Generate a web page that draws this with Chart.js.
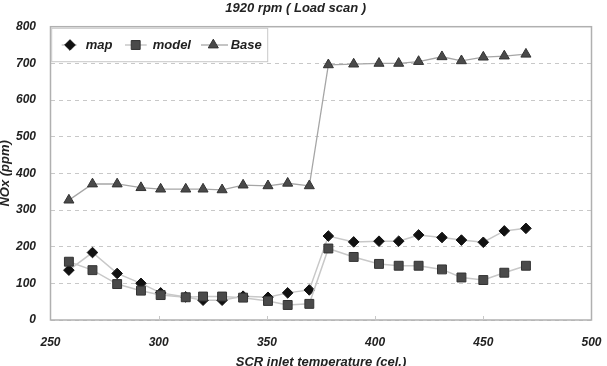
<!DOCTYPE html>
<html><head><meta charset="utf-8">
<script src="https://cdn.jsdelivr.net/npm/chart.js@4/dist/chart.umd.min.js"></script>
<style>html,body{margin:0;padding:0;background:#fff}#wrap{width:607px;height:366px;position:relative}</style>
</head><body><div id="wrap"><canvas id="c"></canvas></div>
<script>
// ---- data ----
const chartTitle = '1920 rpm ( Load scan )';
const xTitle = 'SCR inlet temperature (cel.)';
const yTitle = 'NOx (ppm)';
const seriesNames = ['map', 'model', 'Base'];
const temps    = [258.5, 269.4, 280.8, 291.8, 300.9, 312.5, 320.5, 329.3, 339.0, 350.5, 359.6, 369.6, 378.4, 390.1, 401.8, 410.9, 420.1, 430.9, 439.9, 450.0, 459.7, 469.7];
const mapNOx   = [136, 184, 127, 100, 74, 63, 54, 54, 65, 62, 74, 82, 229, 213, 215, 215, 232, 225, 218, 212, 243, 250];
const modelNOx = [159, 136, 98, 80, 68, 62, 64, 64, 61, 52, 41, 44, 195, 172, 153, 148, 148, 138, 116, 109, 129, 148];
const baseNOx  = [327, 371, 371, 361, 357, 357, 357, 355, 368, 366, 373, 366, 696, 698, 700, 700, 705, 718, 707, 717, 720, 725];
const xTicks = [250, 300, 350, 400, 450, 500];
const yTicks = [0, 100, 200, 300, 400, 500, 600, 700, 800];

const FONT_FAMILY = '"Liberation Sans", Arial, sans-serif';
const pts = (ys) => temps.map((t, i) => ({x: t, y: ys[i]}));

const datasets = [
  {label: seriesNames[0], data: pts(mapNOx), order: 3, borderColor: '#c8c8c8', borderWidth: 1.5,
   pointStyle: 'rectRot', pointRadius: 5.3, pointBackgroundColor: '#111', pointBorderColor: '#111', pointBorderWidth: 1},
  {label: seriesNames[1], data: pts(modelNOx), order: 2, borderColor: '#c8c8c8', borderWidth: 1.5,
   pointStyle: 'rect', pointRadius: 6.3, pointBackgroundColor: '#4a4a4a', pointBorderColor: '#333', pointBorderWidth: 1},
  {label: seriesNames[2], data: pts(baseNOx), order: 1, borderColor: '#a6a6a6', borderWidth: 1.3,
   pointStyle: 'triangle', pointRadius: 5.8, pointBackgroundColor: '#4a4a4a', pointBorderColor: '#333', pointBorderWidth: 1}
];

function drawMarker(ctx, style, r, x, y, fill, stroke) {
  ctx.save();
  ctx.fillStyle = fill; ctx.strokeStyle = stroke; ctx.lineWidth = 1;
  ctx.beginPath();
  if (style === 'rectRot') {
    ctx.moveTo(x, y - r); ctx.lineTo(x + r, y); ctx.lineTo(x, y + r); ctx.lineTo(x - r, y); ctx.closePath();
  } else if (style === 'rect') {
    const s = r * Math.SQRT1_2; ctx.rect(x - s, y - s, 2 * s, 2 * s);
  } else {
    const w = r * Math.sqrt(3) / 2;
    ctx.moveTo(x, y - r); ctx.lineTo(x + w, y + r / 2); ctx.lineTo(x - w, y + r / 2); ctx.closePath();
  }
  ctx.fill(); ctx.stroke();
  ctx.restore();
}

const framePlugin = {
  id: 'frame',
  beforeDatasetsDraw(chart) {
    const {ctx, chartArea: a, scales} = chart;
    ctx.save();
    ctx.strokeStyle = '#b0b0b0'; ctx.lineWidth = 1.5;
    ctx.strokeRect(a.left, a.top, a.right - a.left, a.bottom - a.top);
    ctx.lineWidth = 1; ctx.strokeStyle = '#c8c8c8';
    xTicks.slice(1, -1).forEach(v => {
      const px = Math.round(scales.x.getPixelForValue(v)) + 0.5;
      ctx.beginPath(); ctx.moveTo(px, a.bottom); ctx.lineTo(px, a.bottom - 4); ctx.stroke();
    });
    ctx.restore();
  },
  afterDatasetsDraw(chart) {
    const {ctx, chartArea: a} = chart;
    const L = a.left + 1.2, T = a.top + 1.6, W = 216, H = 33.4;
    ctx.save();
    ctx.fillStyle = '#fff'; ctx.fillRect(L, T, W, H);
    ctx.strokeStyle = '#c8c8c8'; ctx.lineWidth = 1; ctx.strokeRect(L, T, W, H);
    const cy = T + 16.7;
    const items = [
      {ds: datasets[0], l0: 10, l1: 25, m: 18.3, t: 34},
      {ds: datasets[1], l0: 73.3, l1: 95, m: 84, t: 101},
      {ds: datasets[2], l0: 149.3, l1: 176.3, m: 161.6, t: 179}
    ];
    ctx.font = 'italic bold 13px ' + FONT_FAMILY;
    ctx.textBaseline = 'middle'; ctx.textAlign = 'left';
    items.forEach(it => {
      ctx.strokeStyle = it.ds.borderColor; ctx.lineWidth = it.ds.borderWidth;
      ctx.beginPath(); ctx.moveTo(L + it.l0, cy); ctx.lineTo(L + it.l1, cy); ctx.stroke();
      drawMarker(ctx, it.ds.pointStyle, it.ds.pointRadius, L + it.m, cy, it.ds.pointBackgroundColor, it.ds.pointBorderColor);
      ctx.fillStyle = '#222';
      ctx.fillText(it.ds.label, L + it.t, cy + 0.5);
    });
    ctx.restore();
  }
};

const tickFont = {family: FONT_FAMILY, size: 12, style: 'italic', weight: 'bold'};
const titleFont = {family: FONT_FAMILY, size: 13, style: 'italic', weight: 'bold'};

new Chart(document.getElementById('c'), {
  type: 'line',
  data: {datasets},
  options: {
    responsive: true, maintainAspectRatio: false, animation: false, devicePixelRatio: 1,
    layout: {padding: {left: 0, right: 15.5, top: 0, bottom: 0}},
    elements: {line: {tension: 0}},
    plugins: {
      legend: {display: false},
      tooltip: {enabled: false},
      title: {display: true, text: chartTitle, color: '#222', font: titleFont, padding: {top: 0.2, bottom: 10.9}}
    },
    scales: {
      x: {
        type: 'linear', min: 250, max: 500,
        afterFit(s) { s.height = 46; s.paddingLeft = 0; s.paddingRight = 0; },
        afterBuildTicks(s) { s.ticks = xTicks.map(v => ({value: v})); },
        grid: {display: false, drawTicks: false},
        border: {display: false},
        ticks: {color: '#222', font: tickFont, padding: 15.8, maxRotation: 0, autoSkip: false},
        title: {display: true, text: xTitle, color: '#222', font: titleFont, padding: {top: 0, bottom: -4}}
      },
      y: {
        min: 0, max: 800,
        afterFit(s) { s.width = 50.5; s.paddingTop = 0; s.paddingBottom = 0; },
        afterBuildTicks(s) { s.ticks = yTicks.map(v => ({value: v})); },
        grid: {color: '#c8c8c8', lineWidth: 1, drawTicks: false},
        border: {display: false, dash: [4, 4]},
        ticks: {color: '#222', font: tickFont, padding: 14.5},
        title: {display: true, text: yTitle, color: '#222', font: titleFont, padding: {top: -2.3, bottom: 0}}
      }
    }
  },
  plugins: [framePlugin]
});
</script>
</body></html>
